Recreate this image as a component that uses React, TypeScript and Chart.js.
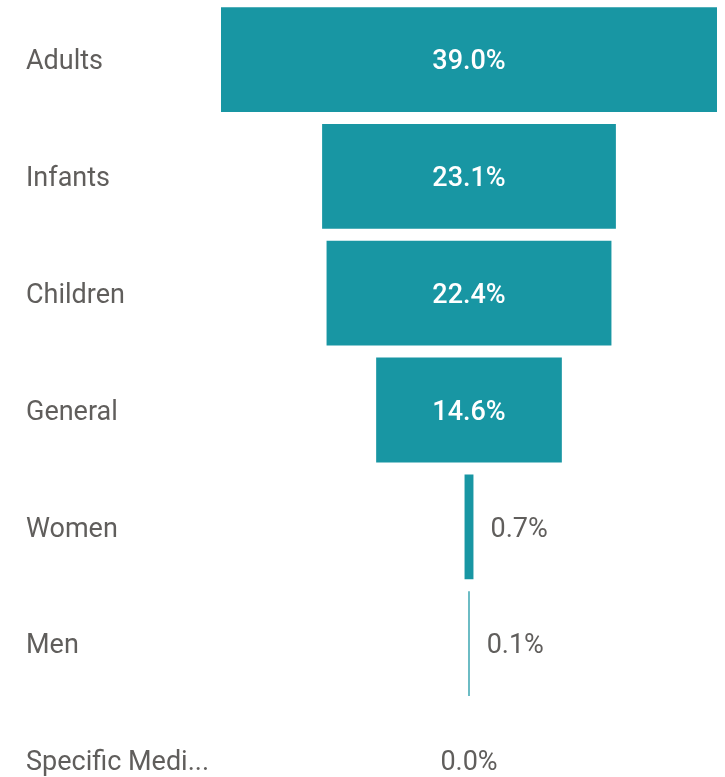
import React, { useEffect, useRef } from "react";
import { Chart, registerables } from "chart.js";

Chart.register(...registerables);

const categories = ["Adults", "Infants", "Children", "General", "Women", "Men", "Specific Medi..."];
const shares = [39.0, 23.1, 22.4, 14.6, 0.7, 0.1, 0.0];
const valueLabels = ["39.0%", "23.1%", "22.4%", "14.6%", "0.7%", "0.1%", "0.0%"];

const BAR_COLOR = "#1896A3";
const TEXT_COLOR = "#605E5C";
const FONT = "Roboto, 'Noto Sans', sans-serif";
const FONT_SIZE = 27;
const LABEL_PAD = (FONT_SIZE * 1.2) / 2;
const TEXT_SHIFT = 3;

const funnelLabels = {
  id: "funnelLabels",
  afterDatasetsDraw(chart: any) {
    const { ctx } = chart;
    const meta = chart.getDatasetMeta(0);
    const xScale = chart.scales.x;
    ctx.save();
    ctx.textBaseline = "middle";
    meta.data.forEach((bar: any, i: number) => {
      const label = valueLabels[i];
      const v = shares[i];
      const left = Math.min(bar.x, bar.base);
      const right = Math.max(bar.x, bar.base);
      const w = right - left;
      const y = bar.y + TEXT_SHIFT;
      ctx.font = `500 ${FONT_SIZE}px ${FONT}`;
      const tw = ctx.measureText(label).width;
      if (w > tw + 10) {
        ctx.fillStyle = "#ffffff";
        ctx.textAlign = "center";
        ctx.fillText(label, (left + right) / 2, y);
      } else if (v === 0) {
        ctx.font = `400 ${FONT_SIZE}px ${FONT}`;
        ctx.fillStyle = TEXT_COLOR;
        ctx.textAlign = "center";
        ctx.fillText(label, xScale.getPixelForValue(0), y);
      } else {
        ctx.font = `400 ${FONT_SIZE}px ${FONT}`;
        ctx.fillStyle = TEXT_COLOR;
        ctx.textAlign = "left";
        ctx.fillText(label, right + 17, y);
      }
    });
    ctx.restore();
  },
};

export default function App() {
  const canvasRef = useRef<HTMLCanvasElement | null>(null);

  useEffect(() => {
    if (!canvasRef.current) return;
    const maxV = Math.max(...shares);
    const chart = new Chart(canvasRef.current, {
      type: "bar",
      data: {
        labels: categories,
        datasets: [
          {
            data: shares.map((v) => [-v / 2, v / 2]) as any,
            backgroundColor: BAR_COLOR,
            borderWidth: 0,
            barPercentage: 0.897,
            categoryPercentage: 1,
          },
        ],
      },
      options: {
        indexAxis: "y",
        animation: false,
        responsive: true,
        maintainAspectRatio: false,
        layout: { padding: { left: 26, right: 8, top: 0, bottom: 0 } },
        plugins: {
          legend: { display: false },
          tooltip: { enabled: false },
        },
        scales: {
          x: {
            min: -maxV / 2,
            max: maxV / 2,
            display: false,
          },
          y: {
            grid: { display: false, drawTicks: false },
            border: { display: false },
            afterFit: (scale: any) => {
              scale.width = 195;
            },
            ticks: {
              crossAlign: "far",
              color: TEXT_COLOR,
              padding: 0,
              autoSkip: false,
              labelOffset: TEXT_SHIFT,
              font: { family: FONT, size: FONT_SIZE, weight: "400" as any },
            },
          },
        },
      },
      plugins: [funnelLabels],
    });
    return () => chart.destroy();
  }, []);

  const areaTop = 1.6;
  const areaBottom = 819.2;
  const top = areaTop - LABEL_PAD;
  const height = areaBottom - top + LABEL_PAD;

  return (
    <div style={{ position: "fixed", left: 0, top: 0, right: 0, bottom: 0, overflow: "hidden", background: "#fff" }}>
      <div style={{ position: "absolute", left: 0, top, width: 725, height }}>
        <canvas ref={canvasRef} />
      </div>
    </div>
  );
}
